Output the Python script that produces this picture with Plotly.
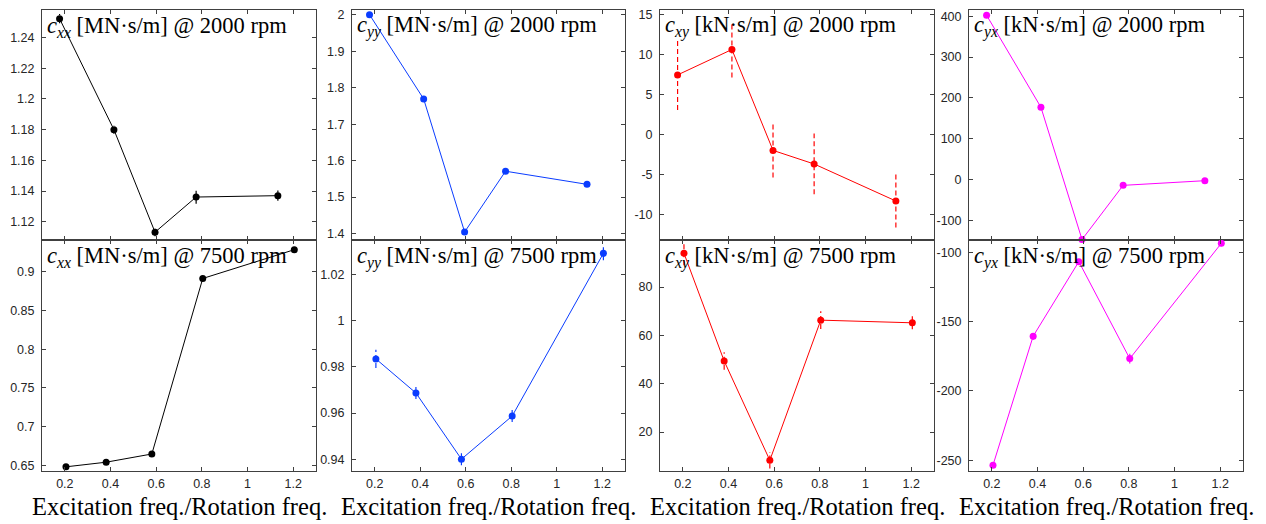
import plotly.graph_objects as go

# ---------------- data ----------------
x_2000 = [0.177, 0.415, 0.595, 0.775, 1.133]
x_7500 = [0.205, 0.381, 0.581, 0.804, 1.205]

cxx_2000 = [1.2523, 1.180, 1.1132, 1.1361, 1.137]
cxx_2000_err = [0.003, 0.0027, 0.0027, 0.0043, 0.0033]
cxx_7500 = [0.648, 0.654, 0.6646, 0.8915, 0.9287]
cxx_7500_err = [0.002, 0.002, 0.002, 0.002, 0.002]

cyy_2000 = [2.0, 1.769, 1.4044, 1.571, 1.535]
cyy_2000_err = [0.004, 0.004, 0.004, 0.004, 0.004]
cyy_7500 = [0.9835, 0.9687, 0.940, 0.9587, 1.0293]
cyy_7500_err = [0.004, 0.0026, 0.0026, 0.0026, 0.003]

cxy_2000 = [7.47, 10.65, -1.97, -3.67, -8.3]
cxy_2000_err = [4.4, 3.5, 3.4, 3.8, 3.3]
cxy_7500 = [94.0, 49.4, 8.3, 66.3, 65.2]
cxy_7500_err = [5.0, 3.6, 3.4, 3.7, 2.7]

cyx_2000 = [402.4, 177.0, -147.0, -14.3, -2.9]
cyx_2000_err = [4, 4, 4, 4, 4]
cyx_7500 = [-253.6, -160.5, -106.7, -176.7, -93.5]
cyx_7500_err = [2, 2.5, 2, 3.6, 2]

x_ticks = [0.2, 0.4, 0.6, 0.8, 1, 1.2]
x_ticktext = ["0.2", "0.4", "0.6", "0.8", "1", "1.2"]

yt_cxx_2000 = [1.12, 1.14, 1.16, 1.18, 1.2, 1.22, 1.24]
ytt_cxx_2000 = ["1.12", "1.14", "1.16", "1.18", "1.2", "1.22", "1.24"]
yt_cxx_7500 = [0.65, 0.7, 0.75, 0.8, 0.85, 0.9]
ytt_cxx_7500 = ["0.65", "0.7", "0.75", "0.8", "0.85", "0.9"]
yt_cyy_2000 = [1.4, 1.5, 1.6, 1.7, 1.8, 1.9, 2.0]
ytt_cyy_2000 = ["1.4", "1.5", "1.6", "1.7", "1.8", "1.9", "2"]
yt_cyy_7500 = [0.94, 0.96, 0.98, 1.0, 1.02]
ytt_cyy_7500 = ["0.94", "0.96", "0.98", "1", "1.02"]
yt_cxy_2000 = [-10, -5, 0, 5, 10, 15]
ytt_cxy_2000 = ["-10", "-5", "0", "5", "10", "15"]
yt_cxy_7500 = [20, 40, 60, 80]
ytt_cxy_7500 = ["20", "40", "60", "80"]
yt_cyx_2000 = [-100, 0, 100, 200, 300, 400]
ytt_cyx_2000 = ["-100", "0", "100", "200", "300", "400"]
yt_cyx_7500 = [-250, -200, -150, -100]
ytt_cyx_7500 = ["-250", "-200", "-150", "-100"]

x_label = "Excitation freq./Rotation freq."

# ---------------- layout geometry (pixels) ----------------
W, H = 1266, 524
col_px = [(42, 316), (352, 625), (660, 934), (969, 1243)]
row_px = [(8, 240), (240, 472.3)]

panels = [
    (0, 0, x_2000, cxx_2000, cxx_2000_err, "#000000", "xx", "MN", "2000", [1.108, 1.258], yt_cxx_2000, ytt_cxx_2000),
    (1, 0, x_7500, cxx_7500, cxx_7500_err, "#000000", "xx", "MN", "7500", [0.643, 0.941], yt_cxx_7500, ytt_cxx_7500),
    (0, 1, x_2000, cyy_2000, cyy_2000_err, "#0a3cff", "yy", "MN", "2000", [1.382, 2.013], yt_cyy_2000, ytt_cyy_2000),
    (1, 1, x_7500, cyy_7500, cyy_7500_err, "#0a3cff", "yy", "MN", "7500", [0.935, 1.035], yt_cyy_7500, ytt_cyy_7500),
    (0, 2, x_2000, cxy_2000, cxy_2000_err, "#ff0000", "xy", "kN", "2000", [-13.2, 15.6], yt_cxy_2000, ytt_cxy_2000),
    (1, 2, x_7500, cxy_7500, cxy_7500_err, "#ff0000", "xy", "kN", "7500", [4.0, 99.4], yt_cxy_7500, ytt_cxy_7500),
    (0, 3, x_2000, cyx_2000, cyx_2000_err, "#ff00ff", "yx", "kN", "2000", [-148.6, 415.4], yt_cyx_2000, ytt_cyx_2000),
    (1, 3, x_7500, cyx_7500, cyx_7500_err, "#ff00ff", "yx", "kN", "7500", [-257.6, -91.2], yt_cyx_7500, ytt_cyx_7500),
]

AX = "#404040"
TICKFONT = dict(family="Liberation Sans, Arial, sans-serif", size=12.5, color="#262626")
SERIF = "Liberation Serif, Times New Roman, serif"

fig = go.Figure()
layout = {}
annotations = []

for k, (r, c, xs, ys, es, color, sym, unit, rpm, yr, yt, ytt) in enumerate(panels, start=1):
    xn = f"x{k}" if k > 1 else "x"
    yn = f"y{k}" if k > 1 else "y"
    xa = f"xaxis{k}" if k > 1 else "xaxis"
    ya = f"yaxis{k}" if k > 1 else "yaxis"

    ex, ey = [], []
    for xv, yv, ev in zip(xs, ys, es):
        ex += [xv, xv, None]
        ey += [yv - ev, yv + ev, None]
    fig.add_trace(go.Scatter(x=ex, y=ey, mode="lines", xaxis=xn, yaxis=yn,
                             line=dict(color=color, width=1.2, dash="5px,3px"),
                             showlegend=False, hoverinfo="skip", cliponaxis=True))
    fig.add_trace(go.Scatter(x=xs, y=ys, mode="lines+markers", xaxis=xn, yaxis=yn,
                             line=dict(color=color, width=1),
                             marker=dict(color=color, size=7),
                             showlegend=False, cliponaxis=False))

    x0, x1 = col_px[c]
    yt0, yt1 = row_px[r]
    layout[xa] = dict(
        domain=[x0 / W, x1 / W], range=[0.1, 1.3], anchor=yn,
        tickvals=x_ticks, ticktext=x_ticktext, showticklabels=(r == 1),
        ticks="inside", ticklen=4, tickcolor=AX, tickwidth=1,
        showline=True, linecolor=AX, linewidth=1, mirror="ticks",
        showgrid=False, zeroline=False, tickfont=TICKFONT, ticklabelstandoff=1,
    )
    layout[ya] = dict(
        domain=[1 - yt1 / H, 1 - yt0 / H], range=yr, anchor=xn,
        tickvals=yt, ticktext=ytt,
        ticks="inside", ticklen=4, tickcolor=AX, tickwidth=1,
        showline=True, linecolor=AX, linewidth=1, mirror="ticks",
        showgrid=False, zeroline=False, tickfont=TICKFONT, ticklabelstandoff=4,
    )

    title = f"<i>c</i><sub><i>{sym}</i></sub> [{unit}·s/m] @ {rpm} rpm"
    ty = 25 if r == 0 else 257
    annotations.append(dict(
        text=title, xref="paper", yref="paper",
        x=(x0 + 3) / W, y=1 - ty / H, xanchor="left", yanchor="middle",
        showarrow=False, font=dict(family=SERIF, size=22.5, color="#000000"),
    ))
    if r == 1:
        annotations.append(dict(
            text=x_label, xref="paper", yref="paper",
            x=((x0 + x1) / 2) / W, y=1 - 508 / H, xanchor="center", yanchor="middle",
            showarrow=False, font=dict(family=SERIF, size=24.5, color="#000000"),
        ))

fig.update_layout(
    width=W, height=H, margin=dict(l=0, r=0, t=0, b=0),
    paper_bgcolor="white", plot_bgcolor="white",
    annotations=annotations, **layout,
)

fig.write_html("out.html", config={"displayModeBar": False},
               post_script="document.body.style.margin='0';document.body.style.padding='0';")
